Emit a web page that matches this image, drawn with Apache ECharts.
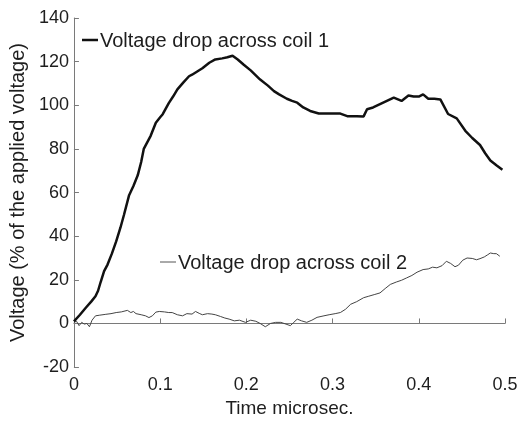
<!DOCTYPE html>
<html>
<head>
<meta charset="utf-8">
<script src="https://cdn.jsdelivr.net/npm/echarts@6/dist/echarts.min.js"></script>
<style>
html,body{margin:0;padding:0;background:#fff;}
#c{width:521px;height:423px;}
</style>
</head>
<body>
<div id="c"></div>
<script>
// Coil 1 voltage drop (% of applied voltage) vs time (microsec.)
var t1 = [0.000,0.007,0.014,0.020,0.025,0.028,0.031,0.035,0.039,0.044,0.049,0.054,0.058,0.064,0.069,0.074,0.078,0.081,0.085,0.089,0.095,0.100,0.103,0.110,0.115,0.120,0.127,0.1335,0.137,0.143,0.149,0.157,0.164,0.172,0.178,0.184,0.190,0.197,0.205,0.216,0.225,0.232,0.238,0.247,0.253,0.259,0.266,0.274,0.284,0.295,0.309,0.317,0.328,0.336,0.340,0.347,0.355,0.363,0.371,0.380,0.388,0.394,0.400,0.405,0.411,0.418,0.425,0.434,0.444,0.454,0.462,0.471,0.477,0.483,0.490,0.497];
var v1 = [1,4,7.3,10,12.5,15,19,24,27,32,37.6,44,49.7,58.8,63,67.9,74,80,83,86,92,94.5,95.9,101,104,107.3,110.5,113.3,114,115.5,117,119.5,121,121.5,122,122.7,121,118.6,116,111.8,109,106.5,105,103,102,101.2,99,97.4,96.2,96.2,96.2,95,95,94.9,98.2,99,100.5,102,103.5,102,104.5,104,104,105,103,103,102.7,96,94,88.3,85,81.8,78,74.7,72.5,70.5];

// Coil 2 voltage drop
var t2 = [0.000,0.003,0.006,0.009,0.012,0.015,0.018,0.021,0.025,0.030,0.037,0.043,0.049,0.055,0.062,0.066,0.069,0.072,0.078,0.083,0.087,0.091,0.095,0.099,0.105,0.110,0.114,0.120,0.126,0.131,0.137,0.141,0.143,0.146,0.149,0.155,0.160,0.164,0.170,0.175,0.180,0.186,0.192,0.199,0.205,0.211,0.216,0.222,0.228,0.234,0.240,0.246,0.251,0.255,0.259,0.264,0.270,0.276,0.282,0.290,0.296,0.303,0.309,0.315,0.321,0.328,0.336,0.342,0.349,0.355,0.361,0.367,0.374,0.380,0.386,0.392,0.398,0.405,0.411,0.416,0.421,0.427,0.432,0.437,0.442,0.446,0.451,0.456,0.462,0.467,0.471,0.476,0.480,0.483,0.487,0.490,0.494];
var v2 = [0.5,1,-1,0.5,-0.3,0,-1.5,1.5,3.5,3.8,4.2,4.5,5,5.3,6,5,5.5,4.5,4,3.5,2.7,3.5,5.2,5.5,5.3,5,5,4,3.5,4.5,4.3,5.5,6,4.5,4,4.5,4.3,4,3.2,2.5,2,1.2,1.5,0.5,1.5,1,0,-1.5,0,0.5,0.5,-0.3,-1,0.5,2,1.2,0.5,1.5,2.8,3.5,4,4.5,5,6.5,8.8,10,11.8,12.5,13.3,14,16,17.9,19,19.8,20.9,22,23.5,24.7,25,25.8,25.5,26.5,28.5,27.5,26,26.7,29,30,29.8,29.2,29.7,30.5,31.5,32.3,32,32,30.8];

var xTicks = [0, 0.1, 0.2, 0.3, 0.4, 0.5];
var yTicks = [-20, 0, 20, 40, 60, 80, 100, 120, 140];
var label1 = 'Voltage drop across coil 1';
var label2 = 'Voltage drop across coil 2';
var xName = 'Time microsec.';
var yName = 'Voltage (% of the applied voltage)';

function pairs(t, v) { return t.map(function (x, i) { return [x, v[i]]; }); }

var chart = echarts.init(document.getElementById('c'), null, {renderer: 'canvas'});
var FONT = 'Liberation Sans, Arial, sans-serif';
var TXT = '#1e1e1e';
var axisLine = {show: true, lineStyle: {color: '#7a7a7a', width: 1}};
var option = {
  animation: false,
  backgroundColor: '#fff',
  grid: {left: 73, right: 16, top: 18, bottom: 53, containLabel: false},
  xAxis: {
    type: 'value', min: xTicks[0], max: xTicks[xTicks.length - 1], interval: 0.1,
    name: xName, nameLocation: 'middle', nameGap: 31,
    nameTextStyle: {fontFamily: FONT, fontSize: 19, color: TXT},
    axisLine: axisLine,
    axisTick: {show: true, inside: true, length: 5, lineStyle: {color: '#7a7a7a'}},
    axisLabel: {fontFamily: FONT, fontSize: 18, color: TXT, margin: 9},
    splitLine: {show: false}
  },
  yAxis: {
    type: 'value', min: yTicks[0], max: yTicks[yTicks.length - 1], interval: 20,
    name: yName, nameLocation: 'middle', nameGap: 42,
    nameTextStyle: {fontFamily: FONT, fontSize: 20, color: TXT},
    axisLine: axisLine,
    axisTick: {show: true, inside: true, length: 5, lineStyle: {color: '#7a7a7a'}},
    axisLabel: {fontFamily: FONT, fontSize: 18, color: TXT, margin: 5},
    splitLine: {show: false}
  },
  series: [
    {
      name: label1, type: 'line', data: pairs(t1, v1), showSymbol: false,
      lineStyle: {color: '#111', width: 2.5}, z: 3
    },
    {
      name: label2, type: 'line', data: pairs(t2, v2), showSymbol: false,
      lineStyle: {color: '#444', width: 1}, z: 2
    }
  ],
  graphic: [
    {type: 'line', shape: {x1: 82, y1: 40, x2: 98, y2: 40}, style: {stroke: '#111', lineWidth: 2.5}},
    {type: 'text', x: 100, y: 41, style: {text: label1, font: '20px ' + FONT, fill: TXT, textVerticalAlign: 'middle', verticalAlign: 'middle'}},
    {type: 'line', shape: {x1: 160, y1: 262, x2: 176, y2: 262}, style: {stroke: '#555', lineWidth: 1}},
    {type: 'text', x: 178, y: 263, style: {text: label2, font: '20px ' + FONT, fill: TXT, textVerticalAlign: 'middle', verticalAlign: 'middle'}}
  ]
};
chart.setOption(option);
</script>
</body>
</html>
